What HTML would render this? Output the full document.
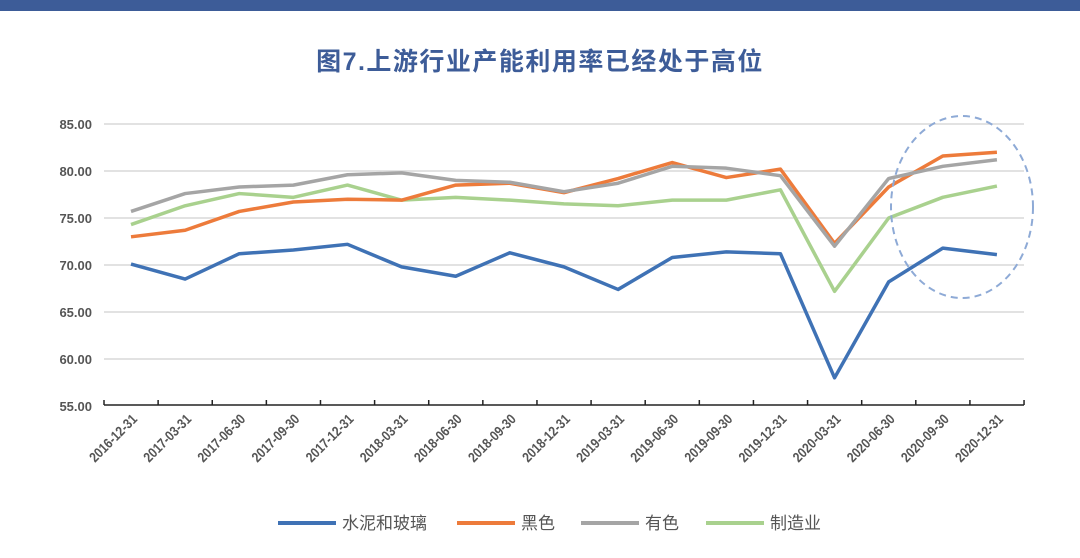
<!DOCTYPE html>
<html><head><meta charset="utf-8"><style>
body{margin:0;background:#fff;width:1080px;height:553px;overflow:hidden}
</style></head><body>
<svg id="s" width="1080" height="553" xmlns="http://www.w3.org/2000/svg" font-family="Liberation Sans, Noto Sans CJK SC, sans-serif">
<rect x="0" y="0" width="1080" height="11" fill="#3d5c98"/>
<text x="540" y="70" text-anchor="middle" font-size="25" font-weight="bold" fill="#3d5c98" font-family="Liberation Sans, Noto Sans CJK SC, sans-serif" letter-spacing="1.5">图7.上游行业产能利用率已经处于高位</text>
<g id="g"></g>
</svg>
<script>
const s=document.getElementById('g');let h='';
const y=v=>124+(85-v)*9.4;
for(let v=55;v<=85;v+=5){const yy=y(v);
 if(v>55)h+=`<line x1="104" x2="1024" y1="${yy}" y2="${yy}" stroke="#d9d9d9" stroke-width="1.5"/>`;
 h+=`<text x="92" y="${yy+5}" text-anchor="end" font-size="13" fill="#555" font-weight="bold">${v.toFixed(2)}</text>`;}
h+=`<line x1="104" x2="1024" y1="405" y2="405" stroke="#222" stroke-width="1.5"/>`;
const lab=["2016-12-31","2017-03-31","2017-06-30","2017-09-30","2017-12-31","2018-03-31","2018-06-30","2018-09-30","2018-12-31","2019-03-31","2019-06-30","2019-09-30","2019-12-31","2020-03-31","2020-06-30","2020-09-30","2020-12-31"];
const st=54.12;
for(let i=0;i<=17;i++){const x=104+i*st;h+=`<line x1="${x}" x2="${x}" y1="400" y2="405" stroke="#222" stroke-width="1.5"/>`;}
lab.forEach((l,i)=>{const x=131+i*st+7;h+=`<text transform="translate(${x},420) rotate(-45) scale(0.85,1)" text-anchor="end" font-size="14" font-weight="bold" fill="#555">${l}</text>`;});
const D=[["#3f72b5",[70.1,68.5,71.2,71.6,72.2,69.8,68.8,71.3,69.8,67.4,70.8,71.4,71.2,58.0,68.2,71.8,71.1]],
["#ed7b3b",[73.0,73.7,75.7,76.7,77.0,76.9,78.5,78.7,77.7,79.2,80.9,79.3,80.2,72.3,78.3,81.6,82.0]],
["#a5a5a5",[75.7,77.6,78.3,78.5,79.6,79.8,79.0,78.8,77.8,78.7,80.5,80.3,79.5,72.0,79.2,80.5,81.2]],
["#a9d18e",[74.3,76.3,77.6,77.2,78.5,76.9,77.2,76.9,76.5,76.3,76.9,76.9,78.0,67.2,75.0,77.2,78.4]]];
[3,0,1,2].forEach(k=>{const [c,d]=D[k];h+=`<polyline fill="none" stroke="${c}" stroke-width="3.5" stroke-linejoin="round" points="${d.map((v,i)=>(131+i*st)+','+y(v)).join(' ')}"/>`;});
h+=`<ellipse cx="962" cy="207" rx="71" ry="91" fill="none" stroke="#8eaad6" stroke-width="2" stroke-dasharray="7,5"/>`;
const L=[["#3f72b5",278,"水泥和玻璃"],["#ed7b3b",457,"黑色"],["#a5a5a5",581,"有色"],["#a9d18e",706,"制造业"]];
L.forEach(([c,x,t])=>{h+=`<line x1="${x}" x2="${x+58}" y1="523" y2="523" stroke="${c}" stroke-width="4"/><text x="${x+64}" y="529" font-size="17" fill="#555">${t}</text>`;});
s.innerHTML=h;
</script>
</body></html>
